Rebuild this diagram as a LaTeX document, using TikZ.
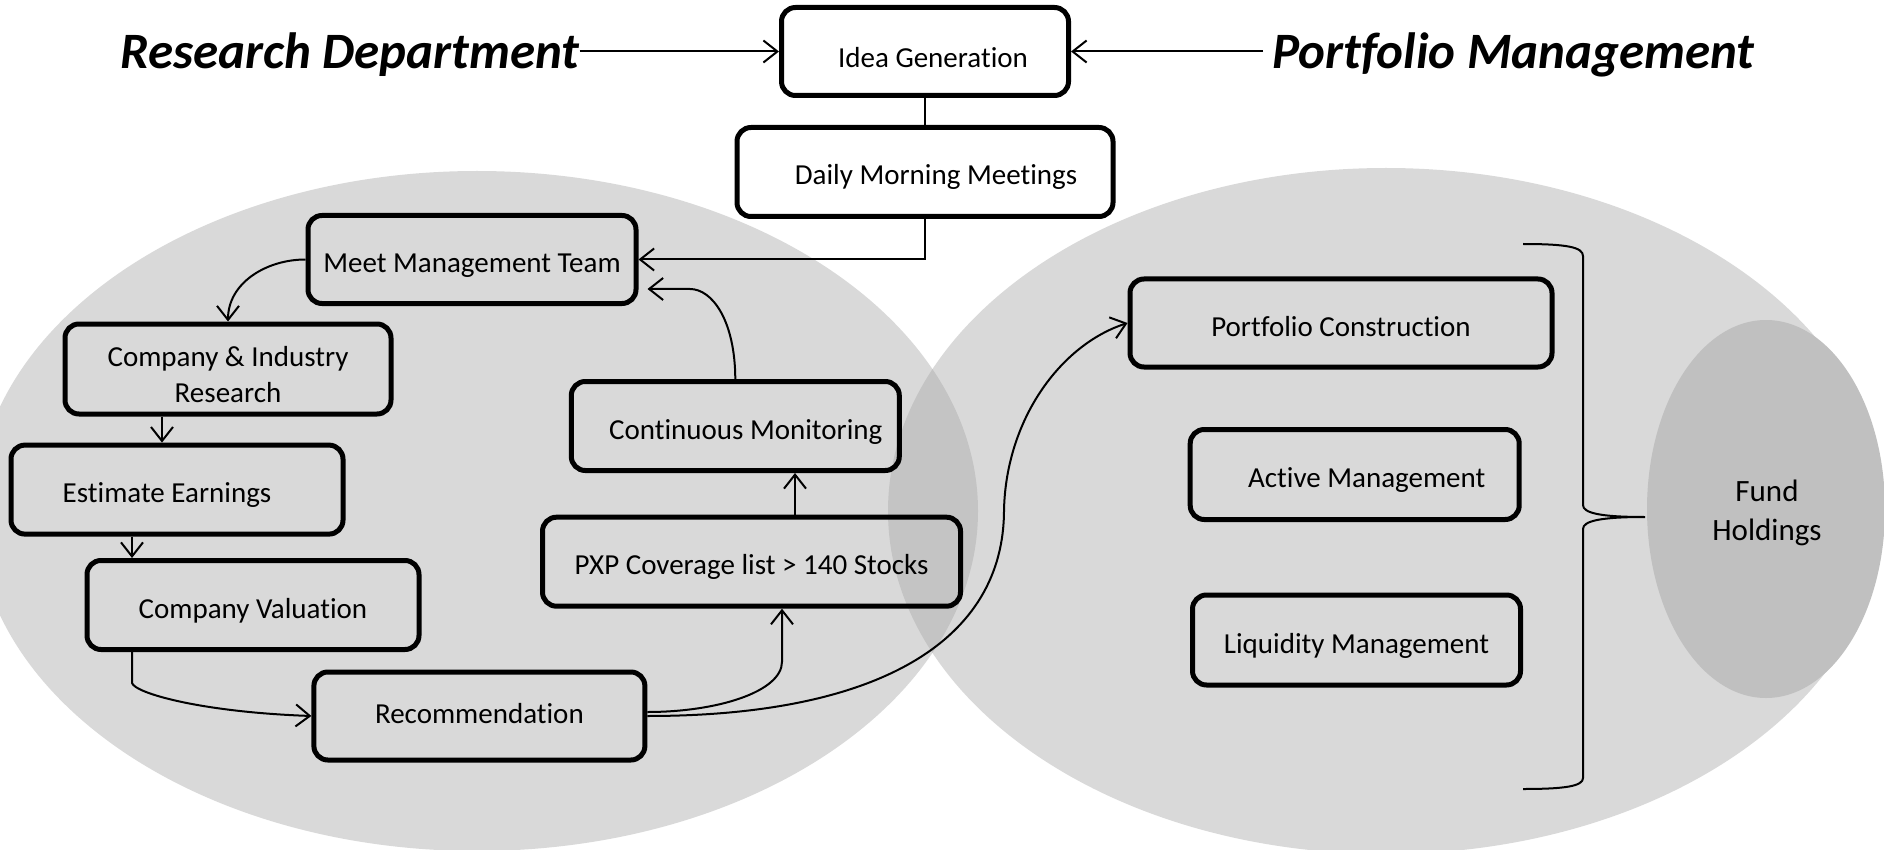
\documentclass[tikz,border=0pt]{standalone}
\usepackage{fontspec}
\setmainfont{Carlito}[Ligatures={NoCommon,NoRare}]
\usetikzlibrary{arrows.meta,shapes.geometric,calc}
\definecolor{ellgray}{HTML}{D9D9D9}
\definecolor{overlapgray}{HTML}{C4C4C4}
\definecolor{fundgray}{HTML}{C0C0C0}
\tikzset{
  stepbox/.style={draw=black, line width=5pt, rounded corners=14pt, inner sep=0pt,
    font=\fontsize{29}{36}\selectfont, align=center, text height=26pt, text depth=0pt},
  heading/.style={font=\fontsize{51}{60}\selectfont\bfseries\itshape, inner sep=0pt, anchor=base west},
  ln/.style={line width=2pt},
  arr/.style={line width=2pt, -{Straight Barb[length=14pt,width=22pt]}}
}
\begin{document}
\begin{tikzpicture}[x=1pt,y=-1pt]
\useasboundingbox (0,0) rectangle (1884,850);
\clip (0,0) rectangle (1884,850);

% two departments as overlapping ellipses
\fill[ellgray] (477,511) ellipse [x radius=501pt, y radius=340pt];
\fill[ellgray] (1386,511) ellipse [x radius=498pt, y radius=343pt];
\begin{scope}
  \clip (477,511) ellipse [x radius=501pt, y radius=340pt];
  \fill[overlapgray] (1386,511) ellipse [x radius=498pt, y radius=343pt];
\end{scope}

% fund holdings
\node[ellipse, fill=fundgray, minimum width=238pt, minimum height=378pt, inner sep=0pt] (fh) at (1766,509) {};
\node[font=\fontsize{31}{39}\selectfont, align=center, inner sep=0pt] at (1767,513) {Fund\\Holdings};

% headings
\node[heading] (rd) at (120,69) {Research Department};
\node[heading] (pm) at (1272,69) {Portfolio Management};

% process boxes
\node[stepbox, text height=33pt, minimum width=287pt, minimum height=88pt] (ig) at (925,51.5) {\hspace*{16pt}Idea Generation};
\node[stepbox, minimum width=376pt, minimum height=89pt] (dmm) at (925,172) {\hspace*{22pt}Daily Morning Meetings};
\node[stepbox, minimum width=328pt, minimum height=88pt] (mmt) at (472,259.5) {Meet Management Team};
\node[stepbox, minimum width=326pt, minimum height=90pt,
      label={[font=\fontsize{29}{36}\selectfont, align=center, yshift=-6pt]center:Company \& Industry\\Research}] (cir) at (228,369) {};
\node[stepbox, minimum width=332pt, minimum height=89pt] (ee) at (177,489.6) {Estimate Earnings\hspace*{20pt}};
\node[stepbox, minimum width=332pt, minimum height=89pt] (cv) at (253,605) {Company Valuation};
\node[stepbox, text height=15pt, minimum width=331pt, minimum height=88pt] (rec) at (479.4,716) {Recommendation};
\node[stepbox, minimum width=418pt, minimum height=89pt] (pxp) at (751.5,561.7) {PXP Coverage list > 140 Stocks};
\node[stepbox, minimum width=328pt, minimum height=89pt] (cm) at (735.3,426) {\hspace*{21pt}Continuous Monitoring};
\node[stepbox, minimum width=422pt, minimum height=88pt] (pc) at (1341,323) {Portfolio Construction};
\node[stepbox, minimum width=329pt, minimum height=90pt] (am) at (1354.7,474.5) {\hspace*{24pt}Active Management};
\node[stepbox, minimum width=328pt, minimum height=90pt] (lm) at (1356.5,640) {Liquidity Management};

% brace gathering the portfolio tasks into fund holdings
\draw[ln] (1523,244) .. controls (1566,244) and (1583,247) .. (1583,256)
  -- (1583,505) .. controls (1583,513) and (1600,517) .. (1645,517)
  .. controls (1600,517) and (1583,521) .. (1583,529)
  -- (1583,778) .. controls (1583,786) and (1566,789) .. (1523,789);

% connectors
\draw[arr] (rd.east |- ig.west) -- (ig.west);
\draw[arr] ([xshift=-9pt]pm.west |- ig.east) -- (ig.east);
\draw[ln] (ig.south) -- (dmm.north);
\draw[arr] (dmm.south) |- (mmt.east);
\draw[arr] (mmt.west) to[out=180,in=90] (cir.north);
\draw[arr] ([xshift=-66pt]cir.south) -- ([xshift=-66pt]cir.south |- ee.north);
\draw[arr] ([xshift=-45pt]ee.south) -- ([xshift=-45pt]ee.south |- cv.north);
\draw[arr] ([xshift=-121pt]cv.south) -- ++(0,31) .. controls +(3,10) and (200,712) .. (rec.west);
\draw[arr] ([yshift=4pt]rec.east) .. controls +(70,0) and +(0,30) .. ($([xshift=30.5pt]pxp.south)+(0,53)$) -- ([xshift=30.5pt]pxp.south);
\draw[arr] (rec.east) .. controls (880,716) and (1004,640) .. (1004,510)
  .. controls (1006,420) and (1060,345) .. (pc.west);
\draw[arr] ([xshift=43.5pt]pxp.north) -- ([xshift=43.5pt]pxp.north |- cm.south);
\coordinate (mmtin) at ($(mmt.east)+(9,29.5)$);
\draw[arr] (cm.north) .. controls (735,320) and (712,289) .. (690,289) -- (mmtin);
\end{tikzpicture}
\end{document}
